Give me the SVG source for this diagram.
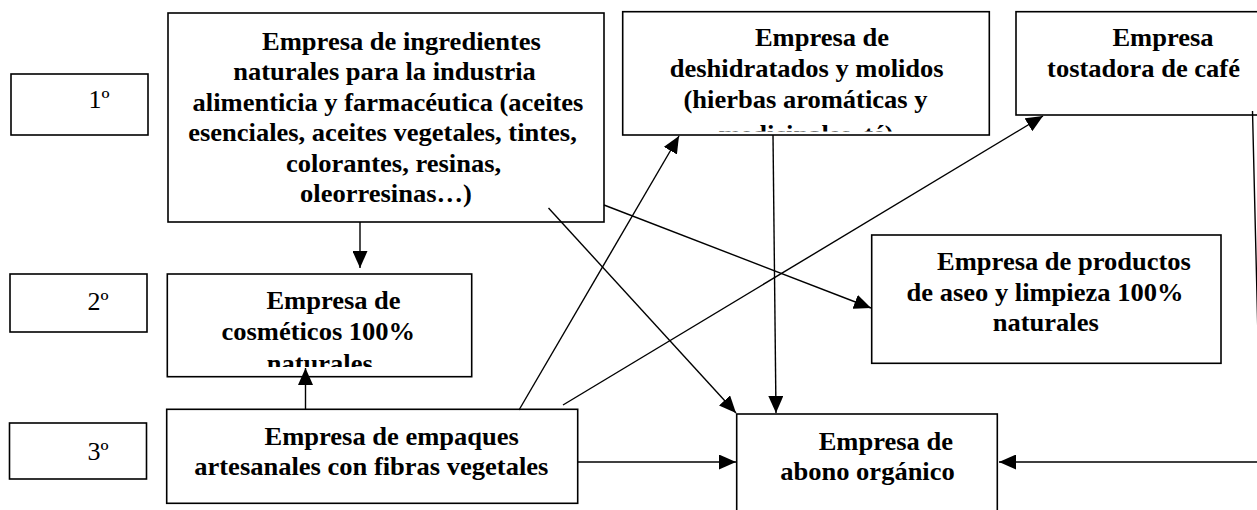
<svg xmlns="http://www.w3.org/2000/svg" width="1257" height="510" viewBox="0 0 1257 510">
<style>
.box{fill:#fff;stroke:#000;stroke-width:1.6}
.t{font-family:"Liberation Serif","Times New Roman",serif;font-size:25.5px;font-weight:bold;fill:#000;text-anchor:middle}
.lab{font-family:"Liberation Serif","Times New Roman",serif;font-size:25px;fill:#000;text-anchor:middle}
.c{fill:none;stroke:#000;stroke-width:1.4;marker-end:url(#ah)}
</style>
<defs>
<marker id="ah" markerUnits="userSpaceOnUse" markerWidth="17" markerHeight="15" refX="17" refY="7.5" orient="auto"><path d="M0,0 L17,7.5 L0,15 z" fill="#000"/></marker>
<clipPath id="clipDes"><rect x="623" y="12" width="366" height="119.5"/></clipPath>
<clipPath id="clipCos"><rect x="168" y="275" width="304" height="92"/></clipPath>
</defs>
<g id="lvl1"><rect class="box" x="11" y="74" width="137" height="61"/><text class="lab" transform="translate(99,108) scale(1.04,1)">1º</text></g>
<g id="lvl2"><rect class="box" x="10" y="274" width="137" height="58"/><text class="lab" transform="translate(98,310) scale(1.04,1)">2º</text></g>
<g id="lvl3"><rect class="box" x="9.5" y="423" width="137" height="56"/><text class="lab" transform="translate(98,460) scale(1.04,1)">3º</text></g>
<g id="ingredientes"><rect class="box" x="168" y="13" width="436" height="209"/>
<text class="t" transform="translate(401.5,49.5) scale(1.04,1)">Empresa de ingredientes</text>
<text class="t" transform="translate(384.5,80) scale(1.04,1)">naturales para la industria</text>
<text class="t" transform="translate(388,110.5) scale(1.04,1)">alimenticia y farmacéutica (aceites</text>
<text class="t" transform="translate(382.5,141) scale(1.04,1)">esenciales, aceites vegetales, tintes,</text>
<text class="t" transform="translate(393.5,171.5) scale(1.04,1)">colorantes, resinas,</text>
<text class="t" transform="translate(386,202) scale(1.04,1)">oleorresinas…)</text></g>
<g id="deshidratados"><rect class="box" x="622.7" y="11.7" width="366.6" height="123.3"/>
<text class="t" transform="translate(822,46) scale(1.04,1)">Empresa de</text>
<text class="t" transform="translate(806.7,77) scale(1.04,1)">deshidratados y molidos</text>
<text class="t" transform="translate(805.5,108) scale(1.04,1)">(hierbas aromáticas y</text>
<g clip-path="url(#clipDes)"><text class="t" transform="translate(806,143) scale(1.04,1)">medicinales, té)</text></g></g>
<g id="tostadora"><rect class="box" x="1016" y="11.7" width="260" height="103.3"/>
<text class="t" transform="translate(1163,46) scale(1.04,1)">Empresa</text>
<text class="t" transform="translate(1143.5,77) scale(1.04,1)">tostadora de café</text></g>
<g id="cosmeticos"><rect class="box" x="167.3" y="274" width="304.4" height="102.7"/>
<text class="t" transform="translate(333.5,309) scale(1.04,1)">Empresa de</text>
<text class="t" transform="translate(318.3,340) scale(1.04,1)">cosméticos 100%</text>
<g clip-path="url(#clipCos)"><text class="t" transform="translate(319.7,372) scale(1.04,1)">naturales</text></g></g>
<g id="productos"><rect class="box" x="871.7" y="235" width="349.3" height="128.3"/>
<text class="t" transform="translate(1064,270) scale(1.04,1)">Empresa de productos</text>
<text class="t" transform="translate(1045,300.5) scale(1.04,1)">de aseo y limpieza 100%</text>
<text class="t" transform="translate(1045.7,331) scale(1.04,1)">naturales</text></g>
<g id="empaques"><rect class="box" x="166.7" y="409.3" width="411" height="94"/>
<text class="t" transform="translate(391.7,445) scale(1.04,1)">Empresa de empaques</text>
<text class="t" transform="translate(371.3,475) scale(1.04,1)">artesanales con fibras vegetales</text></g>
<g id="abono"><rect class="box" x="736.7" y="414" width="260.6" height="120"/>
<text class="t" transform="translate(885.8,450) scale(1.04,1)">Empresa de</text>
<text class="t" transform="translate(867.5,480) scale(1.04,1)">abono orgánico</text></g>
<g id="connectors">
<path class="c" d="M360,222 L360,268"/>
<path class="c" d="M305.5,409 L305.5,368"/>
<path class="c" d="M548.5,208 L736,413"/>
<path class="c" d="M519,410 L679,136"/>
<path class="c" d="M563,405 L1043,116"/>
<path class="c" d="M604,205 L871,308"/>
<path class="c" d="M773,135 L776,413"/>
<path class="c" d="M578,462 L736,462"/>
<path class="c" d="M1252.5,111 L1261,462 L999,462"/>
</g>
</svg>
